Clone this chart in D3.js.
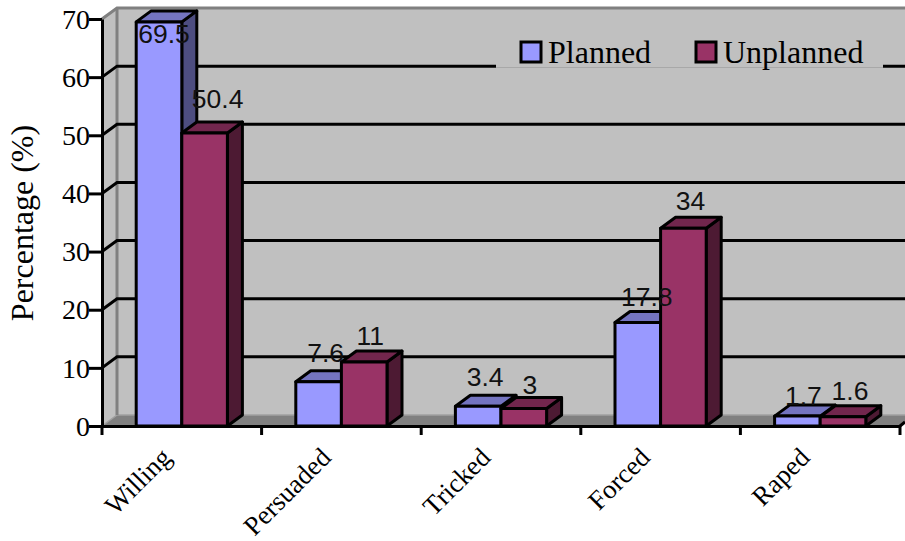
<!DOCTYPE html>
<html>
<head>
<meta charset="utf-8">
<style>
  html, body { margin: 0; padding: 0; background: #fff; overflow: hidden; }
  svg { display: block; }
  .serif { font-family: "Liberation Serif", serif; fill: #000; }
  .sans  { font-family: "Liberation Sans", sans-serif; fill: #111; }
</style>
<script src="https://cdn.jsdelivr.net/npm/d3@7.9.0/dist/d3.min.js"></script>
</head>
<body>
<svg id="chart" width="905" height="541"></svg>
<script>
const categories = ['Willing', 'Persuaded', 'Tricked', 'Forced', 'Raped'];
const planned    = [69.5, 7.6, 3.4, 17.8, 1.7];
const unplanned  = [50.4, 11, 3, 34, 1.6];
const yTicks     = [0, 10, 20, 30, 40, 50, 60, 70];

const series = [
  { name: 'Planned',   values: planned,   front: '#9999ff', top: '#7474c0', side: '#4d4d80' },
  { name: 'Unplanned', values: unplanned, front: '#993366', top: '#72264d', side: '#4d1a33' }
];

// plot frame and the 3d depth offset
const left = 102, right = 900, bottom = 426, top70 = 19;
const depthX = 15, depthY = -11;
const lineW = 3;

// data label nudges from the bar's top centre, planned then unplanned
const labelDx = [[5, 13], [7, 6], [7, 6], [9, 7], [6, 7]];
const labelDy = [[21, -25], [-20, -17], [-20, -15], [-17, -18], [-11, -17]];

const svg = d3.select('#chart');

const x = d3.scaleBand().domain(categories).range([left, right]);
const y = d3.scaleLinear().domain([0, 70]).range([bottom, top70]);
const inner = d3.scaleBand().domain(series.map(s => s.name))
  .range([x.bandwidth() * 0.2143, x.bandwidth() * 0.7857]);

const poly = pts => pts.map(p => p.join(',')).join(' ');

// back wall, side wall and floor
const wallTop = y(70) + depthY, wallBottom = bottom + depthY;
svg.append('polygon')
  .attr('points', poly([[left + depthX, wallTop], [905, wallTop], [905, wallBottom], [left + depthX, wallBottom]]))
  .attr('fill', '#c0c0c0');
svg.append('polygon')
  .attr('points', poly([[left, y(70)], [left + depthX, wallTop], [left + depthX, wallBottom], [left, bottom]]))
  .attr('fill', '#c0c0c0');
svg.append('polygon')
  .attr('points', poly([[left, bottom], [left + depthX, wallBottom], [right + depthX, wallBottom], [right, bottom]]))
  .attr('fill', '#808080');

svg.append('polyline')
  .attr('points', poly([[left, y(70)], [left + depthX, wallTop], [905, wallTop]]))
  .attr('fill', 'none').attr('stroke', '#808080').attr('stroke-width', lineW);
svg.append('polyline')
  .attr('points', poly([[left, bottom], [left + depthX, wallBottom], [905, wallBottom]]))
  .attr('fill', 'none').attr('stroke', '#a0a0a0').attr('stroke-width', 1.5);
svg.append('line')
  .attr('x1', left + depthX).attr('x2', left + depthX)
  .attr('y1', wallTop).attr('y2', wallBottom)
  .attr('stroke', '#808080').attr('stroke-width', lineW);

// gridlines run across the side wall and then the back wall
svg.append('g').selectAll('polyline')
  .data(yTicks.filter(t => t > 0 && t < 70))
  .join('polyline')
  .attr('points', t => poly([[left, y(t)], [left + depthX, y(t) + depthY], [905, y(t) + depthY]]))
  .attr('fill', 'none')
  .attr('stroke', '#000')
  .attr('stroke-width', lineW);

// legend sits on its own patch and hides the gridline behind it
const legend = svg.append('g');
legend.append('rect')
  .attr('x', 496).attr('y', 34).attr('width', 387).attr('height', 33)
  .attr('fill', '#c0c0c0');
legend.append('line')
  .attr('x1', 496).attr('x2', 883).attr('y1', 67.5).attr('y2', 67.5)
  .attr('stroke', '#a8a8a8').attr('stroke-width', 1);
const legendX = [520, 695];
series.forEach((s, i) => {
  legend.append('rect')
    .attr('x', legendX[i] + 1).attr('y', 42).attr('width', 20).attr('height', 20)
    .attr('fill', s.front).attr('stroke', '#000').attr('stroke-width', lineW);
  legend.append('text')
    .attr('class', 'serif')
    .attr('x', legendX[i] + 28).attr('y', 62.5)
    .attr('font-size', 32)
    .text(s.name);
});

// bars: both series of a category, planned first so unplanned overlaps its side
const barW = inner.bandwidth();
categories.forEach((cat, c) => {
  series.forEach(s => {
    const x0 = x(cat) + inner(s.name), x1 = x0 + barW;
    const yv = y(s.values[c]);
    const g = svg.append('g')
      .attr('stroke', '#000').attr('stroke-width', lineW).attr('stroke-linejoin', 'round');
    g.append('polygon')
      .attr('points', poly([[x1, yv], [x1 + depthX, yv + depthY], [x1 + depthX, bottom + depthY], [x1, bottom]]))
      .attr('fill', s.side);
    g.append('polygon')
      .attr('points', poly([[x0, yv], [x0 + depthX, yv + depthY], [x1 + depthX, yv + depthY], [x1, yv]]))
      .attr('fill', s.top);
    g.append('rect')
      .attr('x', x0).attr('y', yv).attr('width', barW).attr('height', bottom - yv)
      .attr('fill', s.front);
  });
});

// axes
const yAxis = svg.append('g')
  .attr('transform', `translate(${left},0)`)
  .call(d3.axisLeft(y).tickValues(yTicks).tickSize(14).tickPadding(1).tickSizeOuter(0));
yAxis.select('.domain').attr('stroke', '#000').attr('stroke-width', lineW);
yAxis.selectAll('line').attr('stroke', '#000').attr('stroke-width', lineW)
  .attr('x1', 0).attr('x2', -13);
yAxis.selectAll('text')
  .attr('class', 'serif')
  .attr('font-family', null)
  .attr('font-size', 28)
  .attr('x', -12)
  .attr('dy', '0.33em');

const xAxis = svg.append('g')
  .attr('transform', `translate(0,${bottom})`)
  .call(d3.axisBottom(x).tickSize(0).tickSizeOuter(0));
xAxis.select('.domain').attr('stroke', '#000').attr('stroke-width', lineW);
xAxis.selectAll('.tick line').remove();
xAxis.selectAll('.tick text')
  .attr('class', 'serif')
  .attr('font-size', 26.8)
  .attr('text-anchor', 'end')
  .attr('dy', 0).attr('y', 0)
  .attr('transform', 'translate(-9,33) rotate(-45)');

// tick marks sit on the band edges, not the centres
svg.append('g').selectAll('line')
  .data([...categories.map(c => x(c)), right])
  .join('line')
  .attr('x1', d => d).attr('x2', d => d)
  .attr('y1', bottom).attr('y2', bottom + 9)
  .attr('stroke', '#000').attr('stroke-width', lineW);
svg.append('line')
  .attr('x1', right).attr('y1', bottom)
  .attr('x2', 905).attr('y2', bottom - 4)
  .attr('stroke', '#000').attr('stroke-width', lineW);

// axis title
svg.append('text')
  .attr('class', 'serif')
  .attr('transform', 'translate(33,223) rotate(-90)')
  .attr('text-anchor', 'middle')
  .attr('font-size', 32)
  .text('Percentage (%)');

// value labels
categories.forEach((cat, c) => {
  series.forEach((s, i) => {
    svg.append('text')
      .attr('class', 'sans')
      .attr('x', x(cat) + inner(s.name) + barW / 2 + labelDx[c][i])
      .attr('y', y(s.values[c]) + labelDy[c][i])
      .attr('text-anchor', 'middle')
      .attr('font-size', 26.5)
      .text(s.values[c]);
  });
});
</script>
</body>
</html>
